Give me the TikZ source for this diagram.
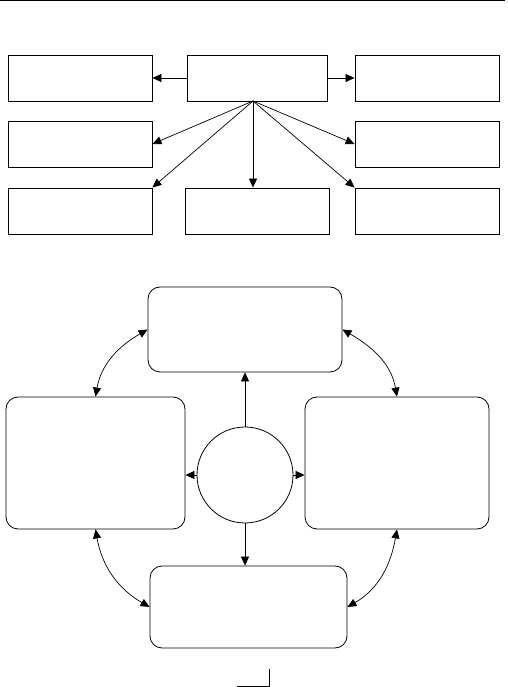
\documentclass[tikz,border=0pt]{standalone}
\usetikzlibrary{calc,positioning,arrows.meta}

\begin{document}
\begin{tikzpicture}[x=1pt, y=1pt,
  flatbox/.style={draw, line width=0.9pt, minimum width=144pt, minimum height=46pt,
    inner sep=0pt},
  roundbox/.style={draw, line width=0.8pt, rounded corners=12pt, inner sep=0pt},
  hub/.style={draw, circle, line width=0.8pt, minimum size=96pt, inner sep=0pt},
  arr/.style={-{Triangle[length=9pt, width=8pt]}, line width=0.7pt},
  dbl/.style={{Triangle[length=9pt, width=8pt]}-{Triangle[length=9pt, width=8pt]}, line width=0.7pt},
]
  \useasboundingbox (0,0) rectangle (507,687);

  % rule at the top of the page
  \draw[line width=1pt] (0,686) -- (505,686);

  % upper chart
  \node[flatbox, minimum width=140pt] (head) at (257,609) {};
  \node[flatbox] (left1) at (80,609) {};
  \node[flatbox] (right1) at (427,609) {};
  \node[flatbox] (left2) at (80,543) {};
  \node[flatbox] (right2) at (427,543) {};
  \node[flatbox] (left3) at (80,476) {};
  \node[flatbox] (mid3) at (257,476) {};
  \node[flatbox] (right3) at (427,476) {};
  \coordinate (fan) at (253,586);

  \draw[arr] (head) -- (left1);
  \draw[arr] (head) -- (right1);
  \draw[arr] (fan) -- (left2.east);
  \draw[arr] (fan) -- (right2.west);
  \draw[arr] (fan) -- (left3.north east);
  \draw[arr] (fan) -- (mid3.north -| fan);
  \draw[arr] (fan) -- (right3.north west);

  % lower chart
  \node[roundbox, minimum width=194pt, minimum height=85pt] (upper) at (245,357.5) {};
  \node[roundbox, minimum width=179pt, minimum height=132pt] (west) at (95.5,224) {};
  \node[roundbox, minimum width=184pt, minimum height=132pt] (east) at (397,224) {};
  \node[roundbox, minimum width=197pt, minimum height=82pt] (lower) at (248.5,80) {};
  \node[hub] (core) at (245,212) {};

  \draw[arr] (core) -- (upper.south -| core);
  \draw[arr] (core) -- (lower.north -| core);
  \draw[arr] (core) -- (west.east |- core);
  \draw[arr] (core) -- (east.west |- core);

  \draw[dbl] (west.north) to[out=80, in=210] (upper.west);
  \draw[dbl] (east.north) to[out=100, in=-30] (upper.east);
  \draw[dbl] (west.south) to[out=-80, in=150] (lower.west);
  \draw[dbl] (east.south) to[out=-100, in=30] (lower.east);

  % mark at the foot of the page
  \draw[line width=0.8pt] (237,1) -- (269,1) -- (269,18);
\end{tikzpicture}
\end{document}
